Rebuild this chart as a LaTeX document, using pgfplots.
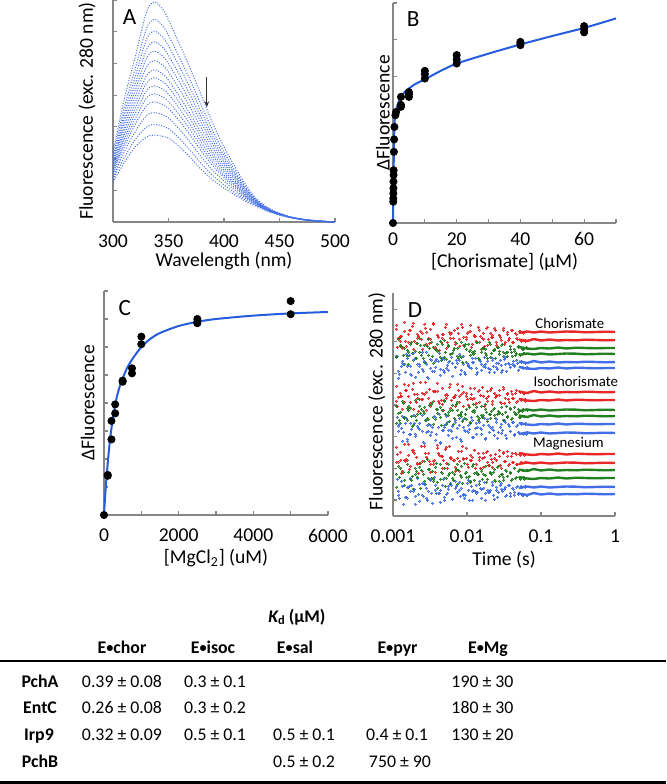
\documentclass[border=0pt]{standalone}
\usepackage{fontspec}
\setmainfont{Carlito}
\usepackage{graphicx}
\usepackage{pgfplots}
\usepackage{pgfplotstable}
\pgfplotsset{compat=1.18}
\usetikzlibrary{arrows.meta}

\definecolor{axgray}{RGB}{134,134,134}
\definecolor{ablue}{RGB}{66,110,232}
\definecolor{fitblue}{RGB}{38,92,222}
\definecolor{dred}{RGB}{232,40,40}
\definecolor{dgreen}{RGB}{34,128,34}
\definecolor{dblue}{RGB}{66,110,232}
\newcommand{\bul}{\raisebox{0.12ex}{\scalebox{0.8}{•}}}

\pgfplotsset{
  panel/.style={
    scale only axis, axis x line*=bottom, axis y line*=left,
    axis line style={draw=axgray,line width=0.6pt},
    tick style={draw=axgray,line width=0.6pt},
    tick align=inside, major tick length=2pt, minor tick length=2pt,
    yticklabels={},
    tick label style={font=\fontsize{9.8}{11}\selectfont},
    label style={font=\fontsize{9.8}{11}\selectfont},
    /pgf/number format/assume math mode=true,
    clip=false,
  },
  aline/.style={smooth, color=ablue, line width=0.5pt, dash pattern=on 0.5pt off 0.8pt},
}

\pgfplotstableread{
w c1 c2 c3 c4 c5 c6 c7 c8 c9 c10 c11 c12 c13 c14
300 2.20 2.08 1.99 1.92 1.85 1.79 1.72 1.66 1.61 1.55 1.50 1.42 1.34 1.26
310 3.85 3.59 3.41 3.25 3.11 2.97 2.84 2.72 2.60 2.48 2.36 2.20 2.02 1.86
320 5.20 4.83 4.58 4.35 4.15 3.95 3.76 3.59 3.42 3.25 3.08 2.85 2.60 2.37
330 6.60 6.09 5.74 5.42 5.15 4.88 4.60 4.37 4.13 3.90 3.66 3.35 2.99 2.68
337 6.94 6.39 6.02 5.68 5.39 5.09 4.80 4.55 4.29 4.04 3.79 3.45 3.08 2.74
345 6.70 6.18 5.82 5.50 5.22 4.94 4.66 4.42 4.18 3.94 3.70 3.38 3.02 2.70
350 6.37 5.89 5.55 5.25 4.99 4.73 4.47 4.25 4.03 3.80 3.58 3.28 2.95 2.65
360 5.60 5.18 4.89 4.63 4.40 4.18 3.95 3.76 3.57 3.37 3.18 2.92 2.63 2.37
370 4.80 4.44 4.19 3.97 3.77 3.58 3.38 3.22 3.05 2.88 2.72 2.49 2.24 2.02
380 3.95 3.65 3.44 3.26 3.10 2.93 2.77 2.63 2.49 2.36 2.22 2.03 1.82 1.64
390 3.10 2.87 2.71 2.57 2.44 2.32 2.19 2.09 1.98 1.87 1.77 1.62 1.46 1.32
400 2.37 2.20 2.08 1.98 1.89 1.80 1.71 1.63 1.55 1.47 1.40 1.29 1.17 1.07
410 1.74 1.62 1.54 1.47 1.41 1.35 1.29 1.23 1.18 1.13 1.07 1.00 0.92 0.85
420 1.15 1.08 1.04 1.00 0.96 0.93 0.89 0.86 0.83 0.80 0.77 0.73 0.68 0.64
430 0.71 0.68 0.66 0.64 0.62 0.61 0.59 0.58 0.57 0.55 0.54 0.52 0.50 0.48
440 0.44 0.43 0.42 0.41 0.40 0.39 0.38 0.38 0.37 0.36 0.36 0.35 0.34 0.33
450 0.28 0.27 0.27 0.26 0.26 0.25 0.25 0.25 0.24 0.24 0.24 0.23 0.22 0.22
460 0.16 0.16 0.16 0.15 0.15 0.15 0.15 0.15 0.15 0.15 0.14 0.14 0.14 0.14
470 0.09 0.09 0.09 0.09 0.09 0.09 0.09 0.08 0.08 0.08 0.08 0.08 0.08 0.08
480 0.05 0.05 0.05 0.05 0.05 0.05 0.04 0.04 0.04 0.04 0.04 0.04 0.04 0.04
490 0.02 0.02 0.02 0.02 0.02 0.02 0.02 0.02 0.02 0.02 0.02 0.02 0.02 0.02
500 0.00 0.00 0.00 0.00 0.00 0.00 0.00 0.00 0.00 0.00 0.00 0.00 0.00 0.00
}\dataA

\pgfplotstableread{
ta tb tc cr1 cr2 cg1 cg2 cb1 cb2 ir1 ir2 ig1 ig2 ib1 ib2 mr1 mr2 mg1 mg2 mb1 mb2
0.00110 0.00115 0.00120 187 169 177 160 160 138 115 110 103 110 99 85 69 62 50 42 37 21
0.00125 0.00131 0.00136 175 180 169 170 150 155 123 120 115 93 88 75 64 43 45 48 35 30
0.00142 0.00148 0.00155 194 175 160 168 144 150 132 126 96 98 93 77 56 55 56 31 19 18
0.00161 0.00168 0.00175 182 186 172 152 161 142 120 109 108 106 82 93 72 47 37 29 30 25
0.00183 0.00191 0.00199 190 167 165 163 163 158 127 107 100 90 101 82 66 64 48 40 25 12
0.00208 0.00217 0.00227 173 178 178 158 152 152 114 118 117 96 90 87 59 52 53 45 38 32
0.00237 0.00247 0.00258 185 183 158 171 147 145 134 123 105 103 85 74 53 45 42 28 21 20
0.00269 0.00281 0.00293 192 172 170 154 164 139 122 106 98 109 96 91 70 59 57 35 28 16
0.00306 0.00319 0.00334 178 187 174 161 157 156 118 113 112 92 81 84 63 44 38 47 36 23
0.00348 0.00363 0.00379 193 168 167 169 145 149 125 125 97 99 100 76 55 56 49 37 39 31
0.00396 0.00413 0.00432 181 179 159 172 155 141 133 115 109 107 89 73 71 63 52 34 23 14
0.00450 0.00470 0.00491 174 182 176 156 158 157 116 112 116 91 86 89 60 48 38 44 31 19
0.00511 0.00533 0.00557 189 168 171 164 148 146 121 122 101 102 100 81 67 53 52 30 22 27
0.00581 0.00607 0.00633 184 182 163 155 162 153 129 108 106 95 86 90 70 59 44 43 33 17
0.00661 0.00690 0.00720 178 174 173 166 149 156 119 121 112 92 94 79 56 49 47 36 35 30
0.00751 0.00784 0.00819 188 177 160 168 156 142 132 114 102 106 91 77 58 45 41 32 26 20
0.00854 0.00892 0.00931 192 171 170 159 160 144 122 110 98 104 97 86 65 58 53 39 21 18
0.00971 0.01014 0.01058 179 183 172 154 153 151 120 117 111 97 85 91 68 52 39 44 33 26
0.0110 0.0115 0.0120 185 169 164 166 148 154 128 122 105 94 99 79 56 56 50 34 30 16
0.0125 0.0131 0.0136 181 180 174 163 158 142 118 112 109 106 88 82 66 48 44 36 25 23
0.0143 0.0149 0.0156 189 174 167 158 156 152 125 114 101 96 94 87 63 59 47 42 35 27
0.0162 0.0169 0.0177 178 177 163 168 150 149 129 120 112 99 91 77 58 49 41 37 28 16
0.0184 0.0192 0.0201 188 171 174 161 155 144 118 115 102 104 97 84 64 54 51 34 26 24
0.0210 0.0219 0.0229 183 181 166 159 158 150 126 112 107 98 87 86 61 49 44 43 34 21
0.0238 0.0248 0.0259 188 174 169 167 149 147 123 121 102 101 94 78 58 56 49 36 29 19
0.0271 0.0283 0.0295 181 179 171 162 156 144 121 114 109 104 89 83 66 51 42 35 31 27
0.0308 0.0322 0.0336 186 172 163 164 157 152 129 113 104 96 96 81 63 55 46 39 27 20
0.0350 0.0365 0.0382 182 176 170 160 153 149 122 117 108 99 92 85 65 51 44 40 31 23
0.0398 0.0416 0.0434 186 174 167 164 152 151 125 118 104 97 94 81 60 54 48 36 28 21
0.0453 0.0473 0.0494 183 178 169 161 156 146 123 114 107 102 90 84 63 52 45 38 29 23
0.0515 0.0538 0.0561 185 175 167 162 154 149 125 116 105 99 93 83 62 54 46 39 30 21
0.0585 0.0611 0.0638 183 176 169 163 153 148 123 117 107 100 92 82 62 54 46 39 30 21
}\Dearly

\pgfplotstableread{
ta tb tc cr1 cr2 cg1 cg2 cb1 cb2 ir1 ir2 ig1 ig2 ib1 ib2 mr1 mr2 mg1 mg2 mb1 mb2
0.001124 0.001173 0.001223 191 178 178 159 145 142 130 119 96 93 90 92 54 54 39 29 25 18
0.001278 0.001333 0.001390 180 168 161 171 153 152 120 107 113 104 100 84 56 45 44 48 30 12
0.001451 0.001514 0.001579 185 170 166 152 162 158 114 126 108 99 98 75 72 57 52 36 19 29
0.001645 0.001716 0.001790 174 186 174 164 150 141 131 114 100 110 82 87 61 50 36 44 38 31
0.001870 0.001951 0.002035 193 175 158 156 157 139 133 122 116 91 93 80 66 63 42 27 27 20
0.002126 0.002217 0.002313 182 180 164 173 144 150 122 105 110 102 88 93 53 43 49 39 22 15
0.002422 0.002526 0.002635 177 167 171 161 164 155 117 117 103 107 101 73 70 55 55 46 33 32
0.002749 0.002868 0.002991 188 184 177 154 152 138 134 124 97 96 84 85 63 59 38 32 18 25
0.003127 0.003262 0.003403 173 177 160 168 148 145 127 110 114 111 91 89 55 52 45 47 37 13
0.003557 0.003710 0.003870 192 169 167 153 155 157 115 125 107 92 99 82 52 44 53 35 26 23
0.004047 0.004221 0.004404 181 166 175 165 163 147 125 113 99 103 102 74 68 61 37 28 23 26
0.004599 0.004797 0.005004 178 182 159 172 146 144 128 106 115 106 86 91 60 56 48 43 37 16
0.005222 0.005447 0.005682 192 174 170 157 151 154 118 121 104 92 94 86 69 48 41 38 23 30
0.005938 0.006193 0.006461 178 183 163 162 159 140 132 116 111 106 85 78 58 58 38 32 31 17
0.006755 0.007046 0.007350 186 172 160 168 149 153 119 110 114 98 96 88 56 45 52 42 28 24
0.007675 0.008006 0.008351 183 170 174 158 162 146 126 120 100 101 98 75 65 55 50 46 34 28
0.008728 0.009104 0.009496 189 179 172 154 152 142 130 124 102 95 89 85 70 57 43 33 22 21
0.009924 0.01035 0.01080 177 184 165 167 150 149 123 111 109 107 84 87 58 49 40 39 36 16
0.01124 0.01173 0.01223 191 172 162 161 158 154 118 117 112 93 96 79 61 59 52 35 25 26
0.01278 0.01333 0.01390 180 175 174 165 148 144 128 113 100 104 93 89 66 52 42 43 31 24
0.01461 0.01524 0.01590 186 180 164 157 155 146 126 121 110 98 88 82 56 48 45 32 28 18
0.01656 0.01727 0.01801 183 170 167 168 159 152 120 110 107 101 98 78 63 59 50 42 34 23
0.01880 0.01961 0.02046 189 177 172 158 148 147 125 120 102 95 91 89 65 51 44 37 24 26
0.02146 0.02239 0.02335 179 179 166 163 156 144 128 115 108 105 89 81 57 54 47 42 31 17
0.02432 0.02537 0.02647 186 171 169 158 153 153 119 120 105 98 97 84 62 56 50 35 26 24
0.02770 0.02889 0.03014 181 176 172 165 151 146 126 113 102 103 92 86 60 48 42 40 33 25
0.03148 0.03283 0.03425 188 174 164 160 159 145 127 118 110 96 94 78 64 55 45 36 29 21
0.03577 0.03731 0.03892 184 178 167 164 152 149 123 114 107 100 90 85 60 52 43 40 31 20
0.04068 0.04243 0.04426 186 174 165 160 155 150 122 118 109 98 94 82 63 54 48 37 27 24
0.04630 0.04829 0.05037 182 177 170 163 153 146 126 115 104 102 91 84 62 52 45 39 30 22
0.05263 0.05490 0.05727 185 176 167 161 155 148 124 117 107 99 92 82 61 54 46 37 29 21
0.05979 0.06236 0.06505 184 175 168 163 153 149 123 115 106 100 93 84 61 54 46 37 29 21
}\Dearlyb

\pgfplotstableread{
t cr1 cr2 cg1 cg2 cb1 cb2 ir1 ir2 ig1 ig2 ib1 ib2 mr1 mr2 mg1 mg2 mb1 mb2
0.05 183 176.5 169 161 154.5 149 124.5 117 105 100.5 93 82 63 52 46.5 39 28 22.5
0.065 184.5 175 167.5 162.5 153 147.5 123 115.5 106.5 99 91.5 83.5 61.5 53.5 45 37.5 29.5 21
0.08 183.5 177 167 161.5 155 147 125 115 105.5 101 91 82.5 61 52.5 47 37 28.5 23
0.1 184.5 175.5 168 162.5 153.5 148 123.5 116 106.5 99.5 92 83.5 62 53.5 45.5 38 29.5 21.5
0.13 183.5 176.5 167.5 161.5 154.5 147.5 124.5 115.5 105.5 100.5 91.5 82.5 61.5 52.5 46.5 37.5 28.5 22.5
0.17 184 175.5 168.5 162 153.5 148.5 123.5 116.5 106 99.5 92.5 83 62.5 53 45.5 38.5 29 21.5
0.22 184.5 176 167.5 162.5 154 147.5 124 115.5 106.5 100 91.5 83.5 61.5 53.5 46 37.5 29.5 22
0.3 184.3 175.7 168.3 162.3 153.7 148.3 123.7 116.3 106.3 99.7 92.3 83.3 62.3 53.3 45.7 38.3 29.3 21.7
0.4 183.7 176.3 168 161.7 154.3 148 124.3 116 105.7 100.3 92 82.7 62 52.7 46.3 38 28.7 22.3
0.55 184 176 167.7 162 154 147.7 124 115.7 106 100 91.7 83 61.7 53 46 37.7 29 22
0.75 184.3 175.7 168 162.3 153.7 148 123.7 116 106.3 99.7 92 83.3 62 53.3 45.7 38 29.3 21.7
1.0 184 176 168 162 154 148 124 116 106 100 92 83 62 53 46 38 29 22
}\Dlate

\newcommand{\Dtr}[4]{\addplot[only marks, mark=*, mark size=0.5pt, color=#4, mark options={line width=0pt}] table[x=#2,y=#3]{#1};}
\newcommand{\Dln}[2]{\addplot[line width=1.2pt, color=#2] table[x=t,y=#1]{\Dlate};}
\newcommand{\Dset}[1]{%
\Dtr{#1}{ta}{cr1}{dred}\Dtr{#1}{tb}{cr2}{dred}\Dtr{#1}{tc}{cg1}{dgreen}\Dtr{#1}{ta}{cg2}{dgreen}\Dtr{#1}{tb}{cb1}{dblue}\Dtr{#1}{tc}{cb2}{dblue}%
\Dtr{#1}{ta}{ir1}{dred}\Dtr{#1}{tb}{ir2}{dred}\Dtr{#1}{tc}{ig1}{dgreen}\Dtr{#1}{ta}{ig2}{dgreen}\Dtr{#1}{tb}{ib1}{dblue}\Dtr{#1}{tc}{ib2}{dblue}%
\Dtr{#1}{ta}{mr1}{dred}\Dtr{#1}{tb}{mr2}{dred}\Dtr{#1}{tc}{mg1}{dgreen}\Dtr{#1}{ta}{mg2}{dgreen}\Dtr{#1}{tb}{mb1}{dblue}\Dtr{#1}{tc}{mb2}{dblue}}

\begin{document}
\begin{tikzpicture}[x=0.5pt,y=0.5pt]
\useasboundingbox (0,0) rectangle (666,784);

% ---------------- Panel A
\begin{axis}[panel, at={(56.5pt,281pt)}, anchor=south west, width=111pt, height=111pt,
  xmin=300, xmax=500, ymin=0, ymax=7,
  xtick={300,350,400,450,500}, xticklabels={300,350,400,450,500},
  ytick={1,2,3,4,5,6,7},
  xticklabel style={yshift=-2.9pt},
  xlabel={Wavelength (nm)}, ylabel={Fluorescence (exc. 280 nm)},
  xlabel style={at={(axis description cs:0.5,-0.174)},anchor=center},
  ylabel style={at={(axis description cs:-0.117,0.5)},anchor=center},
  clip=true]
\pgfplotsinvokeforeach{1,...,14}{\addplot[aline] table[x=w,y=c#1]{\dataA};}
\draw[-{Stealth[length=3pt,width=2.4pt]}, line width=0.4pt, color=black!80] (axis cs:384.5,4.57) -- (axis cs:384.5,3.62);
\node[font=\fontsize{11.6}{13}\selectfont] at (axis cs:315,6.47) {A};
\end{axis}

% ---------------- Panel B
\begin{axis}[panel, at={(196.5pt,280.5pt)}, anchor=south west, width=111.5pt, height=110pt,
  xmin=0, xmax=70, ymin=0, ymax=6,
  xtick={0,20,40,60}, xticklabels={0,20,40,60}, minor xtick={10,30,50,70},
  ytick={1,2,3,4,5,6},
  xticklabel style={yshift=-1.3pt},
  xlabel={[Chorismate] (μM)}, ylabel={ΔFluorescence},
  xlabel style={at={(axis description cs:0.5,-0.177)},anchor=center},
  ylabel style={at={(axis description cs:-0.045,0.5)},anchor=center}]
\addplot[color=fitblue, line width=1pt, smooth, tension=0.4] coordinates {(0,0) (0.1,0.75) (0.2,1.45) (0.3,2.05) (0.4,2.5) (0.5,2.75) (0.7,2.98) (1,3.1) (1.5,3.24) (2,3.35) (3,3.5) (4,3.6) (5,3.67) (7,3.79) (10,3.92) (15,4.15) (20,4.35) (30,4.62) (40,4.87) (50,5.1) (60,5.32) (70,5.58)};
\addplot[only marks, mark=*, mark size=1.8pt, black] coordinates {(0,0) (0.08,0.58) (0.09,0.67) (0.11,0.81) (0.13,0.95) (0.15,1.13) (0.18,1.31) (0.2,1.44) (0.28,1.94) (0.35,2.28) (0.45,2.62) (0.75,2.94) (1,3.03) (2.5,3.17) (2.5,3.22) (2.5,3.44) (5,3.44) (5,3.51) (5,3.57) (10,3.94) (10,4.06) (10,4.15) (20,4.35) (20,4.46) (20,4.58) (40,4.85) (40,4.9) (40,4.94) (60,5.2) (60,5.29) (60,5.37)};
\node[font=\fontsize{11.6}{13}\selectfont] at (axis cs:6.3,5.56) {B};
\end{axis}

% ---------------- Panel C
\begin{axis}[panel, at={(52pt,134.5pt)}, anchor=south west, width=112pt, height=112pt,
  xmin=0, xmax=6000, ymin=0, ymax=8,
  xtick={0,2000,4000,6000}, xticklabels={0,2000,4000,6000}, minor xtick={1000,3000,5000},
  ytick={1,2,3,4,5,6,7,8},
  xticklabel style={yshift=-3.6pt},
  xlabel={[MgCl\textsubscript{2}] (uM)}, ylabel={ΔFluorescence},
  xlabel style={at={(axis description cs:0.5,-0.192)},anchor=center},
  ylabel style={at={(axis description cs:-0.073,0.5)},anchor=center}]
\addplot[color=fitblue, line width=1pt, smooth, tension=0.5] coordinates {(0,0) (25,0.55) (50,1.05) (100,1.85) (150,2.55) (200,3.1) (300,3.95) (400,4.5) (500,4.87) (600,5.2) (750,5.55) (1000,6.0) (1250,6.3) (1500,6.5) (2000,6.75) (2500,6.9) (3000,7.0) (4000,7.12) (5000,7.2) (6000,7.25)};
\addplot[only marks, mark=*, mark size=1.8pt, black] coordinates {(0,0) (100,1.43) (100,1.40) (200,2.70) (200,3.36) (300,3.63) (300,3.95) (500,4.76) (500,4.80) (750,5.24) (750,5.06) (1000,6.37) (1000,6.10) (2500,7.0) (2500,6.90) (2500,6.85) (5000,7.64) (5000,7.17)};
\node[font=\fontsize{11.6}{13}\selectfont] at (axis cs:560,7.4) {C};
\end{axis}

% ---------------- Panel D
\begin{axis}[panel, at={(196.5pt,134pt)}, anchor=south west, width=111pt, height=111.5pt,
  xmode=log, xmin=0.001, xmax=1, ymin=0, ymax=223,
  xtick={0.001,0.01,0.1,1}, xticklabels={0.001,0.01,0.1,1}, xminorticks=false,
  ytick={16,47.7,79.4,111.1,142.8,174.5,206.2},
  xticklabel style={yshift=-3.5pt},
  xlabel={Time (s)}, ylabel={Fluorescence (exc. 280 nm)},
  xlabel style={at={(axis description cs:0.5,-0.197)},anchor=center},
  ylabel style={at={(axis description cs:-0.073,0.513)},anchor=center}]
\Dln{cr1}{dred}\Dln{cr2}{dred}\Dln{cg1}{dgreen}\Dln{cg2}{dgreen}\Dln{cb1}{dblue}\Dln{cb2}{dblue}
\Dln{ir1}{dred}\Dln{ir2}{dred}\Dln{ig1}{dgreen}\Dln{ig2}{dgreen}\Dln{ib1}{dblue}\Dln{ib2}{dblue}
\Dln{mr1}{dred}\Dln{mr2}{dred}\Dln{mg1}{dgreen}\Dln{mg2}{dgreen}\Dln{mb1}{dblue}\Dln{mb2}{dblue}
\Dset{\Dearly}
\Dset{\Dearlyb}
\node[font=\fontsize{11.6}{13}\selectfont] at (axis cs:0.00198,206) {D};
\node[font=\fontsize{7.4}{8}\selectfont] at (axis cs:0.245,193) {Chorismate};
\node[font=\fontsize{7.4}{8}\selectfont] at (axis cs:0.295,135) {Isochorismate};
\node[font=\fontsize{7.4}{8}\selectfont] at (axis cs:0.234,72) {Magnesium};
\end{axis}

% ---------------- Table
\begin{scope}[every node/.style={font=\fontsize{8.9}{10}\selectfont, anchor=base, inner sep=0pt}]
\node at (297,162) {{\bfseries\itshape K}{\bfseries\textsubscript{d}\,(μM)}};
\node[font=\fontsize{8.9}{10}\selectfont\bfseries] at (122,130) {E\bul chor};
\node[font=\fontsize{8.9}{10}\selectfont\bfseries] at (213,130) {E\bul isoc};
\node[font=\fontsize{8.9}{10}\selectfont\bfseries] at (295,130) {E\bul sal};
\node[font=\fontsize{8.9}{10}\selectfont\bfseries] at (397.5,130) {E\bul pyr};
\node[font=\fontsize{8.9}{10}\selectfont\bfseries] at (488,130) {E\bul Mg};
\node[font=\fontsize{8.9}{10}\selectfont\bfseries] at (40,97) {PchA};
\node[font=\fontsize{8.9}{10}\selectfont\bfseries] at (40,70) {EntC};
\node[font=\fontsize{8.9}{10}\selectfont\bfseries] at (39,43.5) {Irp9};
\node[font=\fontsize{8.9}{10}\selectfont\bfseries] at (40,16.5) {PchB};
\node at (122,97) {0.39 ± 0.08};
\node at (215,97) {0.3 ± 0.1};
\node at (482.5,97) {190 ± 30};
\node at (122,70) {0.26 ± 0.08};
\node at (215,70) {0.3 ± 0.2};
\node at (482.5,70) {180 ± 30};
\node at (122,43.5) {0.32 ± 0.09};
\node at (215,43.5) {0.5 ± 0.1};
\node at (304,43.5) {0.5 ± 0.1};
\node at (397,43.5) {0.4 ± 0.1};
\node at (482.5,43.5) {130 ± 20};
\node at (304,16.5) {0.5 ± 0.2};
\node at (400,16.5) {750 ± 90};
\end{scope}
\draw[line width=1pt] (0,123) -- (666,123);
\draw[line width=1.3pt] (0,1.3) -- (666,1.3);
\end{tikzpicture}
\end{document}
